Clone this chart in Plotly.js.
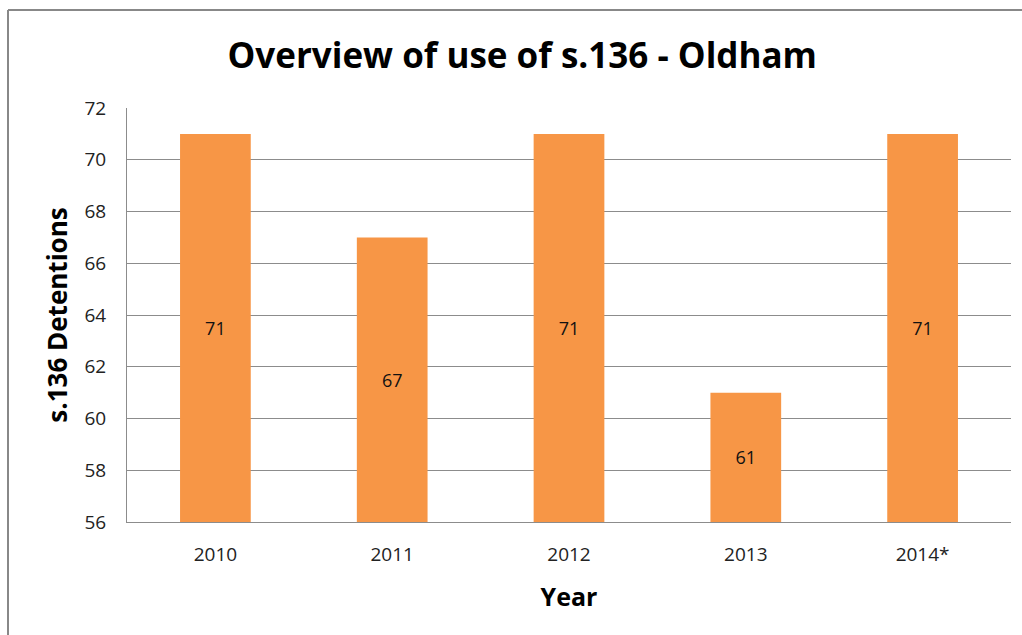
<!DOCTYPE html>
<html>
<head>
<meta charset="utf-8">
<script src="https://cdn.plot.ly/plotly-3.0.1.min.js"></script>
<style>
html,body{margin:0;padding:0;background:#fff;}
#chart{width:1022px;height:635px;}
</style>
</head>
<body>
<div id="chart"></div>
<script>
const years = ["2010", "2011", "2012", "2013", "2014*"];
const detentions = [71, 67, 71, 61, 71];
const yTicks = [56, 58, 60, 62, 64, 66, 68, 70, 72];
const axisMin = 56, axisMax = 72;

const W = 1022, H = 635;
const L = 127, R = 11, T = 108, B = 113;
const pw = W - L - R, ph = H - T - B;
const px = v => (v - L) / pw;
const py = v => (H - B - v) / ph;

const trace = {
  type: 'bar',
  x: years,
  y: detentions.map(v => v - axisMin),
  base: axisMin,
  marker: {color: '#F79646', line: {width: 0}},
  text: detentions.map(String),
  textposition: 'inside',
  insidetextanchor: 'middle',
  textangle: 0,
  constraintext: 'none',
  textfont: {family: 'Open Sans, sans-serif', size: 18, color: '#111'},
  hoverinfo: 'none'
};

const layout = {
  width: W, height: H,
  margin: {l: L, r: R, t: T, b: B, pad: 0},
  paper_bgcolor: '#ffffff',
  plot_bgcolor: '#ffffff',
  bargap: 0.6,
  showlegend: false,
  font: {family: 'Open Sans, sans-serif', color: '#222'},
  title: {
    text: 'Overview of use of s.136 - Oldham',
    font: {family: 'Open Sans, sans-serif', size: 35, color: '#000', weight: 'bold'},
    x: 0.511, xanchor: 'center', y: 1 - 56 / H, yanchor: 'middle'
  },
  xaxis: {
    type: 'category',
    showgrid: false,
    showline: true, linecolor: '#8c8c8c', linewidth: 1,
    ticks: '', ticklabelstandoff: 15,
    tickfont: {size: 19, color: '#222'},
    title: {text: 'Year', font: {size: 25, color: '#000', weight: 'bold'}, standoff: 22}
  },
  yaxis: {
    range: [axisMin, axisMax],
    tickvals: yTicks,
    showgrid: true, gridcolor: '#8c8c8c', gridwidth: 1,
    showline: true, linecolor: '#8c8c8c', linewidth: 1,
    zeroline: false,
    ticks: '', ticklabelstandoff: 16,
    tickfont: {size: 19, color: '#222'},
    title: {text: 's.136 Detentions', font: {size: 26, color: '#000', weight: 'bold'}, standoff: 9}
  },
  shapes: [
    {type: 'line', xref: 'paper', yref: 'paper', x0: px(8), x1: px(1030), y0: py(10), y1: py(10), line: {color: '#888', width: 2}},
    {type: 'line', xref: 'paper', yref: 'paper', x0: px(8), x1: px(8), y0: py(10), y1: py(640), line: {color: '#888', width: 2}}
  ]
};

Plotly.newPlot('chart', [trace], layout, {displayModeBar: false, staticPlot: true});
</script>
</body>
</html>
